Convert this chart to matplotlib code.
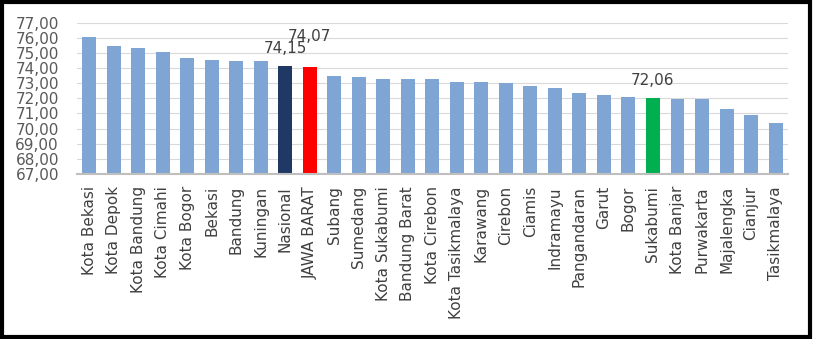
import matplotlib
matplotlib.use("Agg")
import matplotlib.pyplot as plt
from matplotlib.patches import Rectangle
from matplotlib.ticker import FuncFormatter

regions = [
    "Kota Bekasi", "Kota Depok", "Kota Bandung", "Kota Cimahi", "Kota Bogor",
    "Bekasi", "Bandung", "Kuningan", "Nasional", "JAWA BARAT",
    "Subang", "Sumedang", "Kota Sukabumi", "Bandung Barat", "Kota Cirebon",
    "Kota Tasikmalaya", "Karawang", "Cirebon", "Ciamis", "Indramayu",
    "Pangandaran", "Garut", "Bogor", "Sukabumi", "Kota Banjar",
    "Purwakarta", "Majalengka", "Cianjur", "Tasikmalaya",
]
values = [
    76.08, 75.50, 75.37, 75.10, 74.70,
    74.57, 74.50, 74.50, 74.15, 74.07,
    73.50, 73.43, 73.30, 73.30, 73.30,
    73.12, 73.12, 73.06, 72.83, 72.70,
    72.37, 72.23, 72.10, 72.06, 71.97,
    71.97, 71.30, 70.90, 70.37,
]
# bars that get a special colour and a value label
highlight = {"Nasional": "#203864", "JAWA BARAT": "#FF0000", "Sukabumi": "#00B050"}
label_offset = {"Nasional": 7, "JAWA BARAT": 17, "Sukabumi": 7}

BLUE = "#7FA5D4"

fig = plt.figure(figsize=(8.13, 3.39), dpi=100)
ax = fig.add_axes([0.0947, 0.488, 0.8743, 0.443])

x = list(range(len(regions)))
colors = [highlight.get(r, BLUE) for r in regions]
ax.bar(x, values, width=0.57, color=colors, zorder=3)

for i, (r, v) in enumerate(zip(regions, values)):
    if r in label_offset:
        ax.annotate(f"{v:.2f}".replace(".", ","), (i, v),
                    xytext=(0, label_offset[r]), textcoords="offset points",
                    ha="center", va="bottom", fontsize=11, color="#404040",
                    zorder=4)

ax.set_ylim(67, 77)
ax.set_xlim(-0.5, len(regions) - 0.5)
ax.set_yticks(range(67, 78))
ax.yaxis.set_major_formatter(FuncFormatter(lambda v, p: f"{v:.2f}".replace(".", ",")))
ax.grid(axis="y", color="#D9D9D9", linewidth=0.8, zorder=0)

ax.set_xticks(x)
ax.set_xticklabels(regions, rotation=90, fontsize=11, color="#404040")
ax.tick_params(axis="y", labelsize=11, labelcolor="#595959", length=0, pad=13)
ax.tick_params(axis="x", length=0, pad=9)

for side in ["top", "right", "left"]:
    ax.spines[side].set_visible(False)
ax.spines["bottom"].set_color("#BFBFBF")
ax.spines["bottom"].set_linewidth(1.5)
ax.spines["bottom"].set_zorder(5)

# black frame around the whole picture
fig.patches.append(Rectangle((0.002, 0.005), 0.994, 0.989, transform=fig.transFigure,
                             fill=False, edgecolor="black", linewidth=3))

fig.savefig("out.png", dpi=100)
